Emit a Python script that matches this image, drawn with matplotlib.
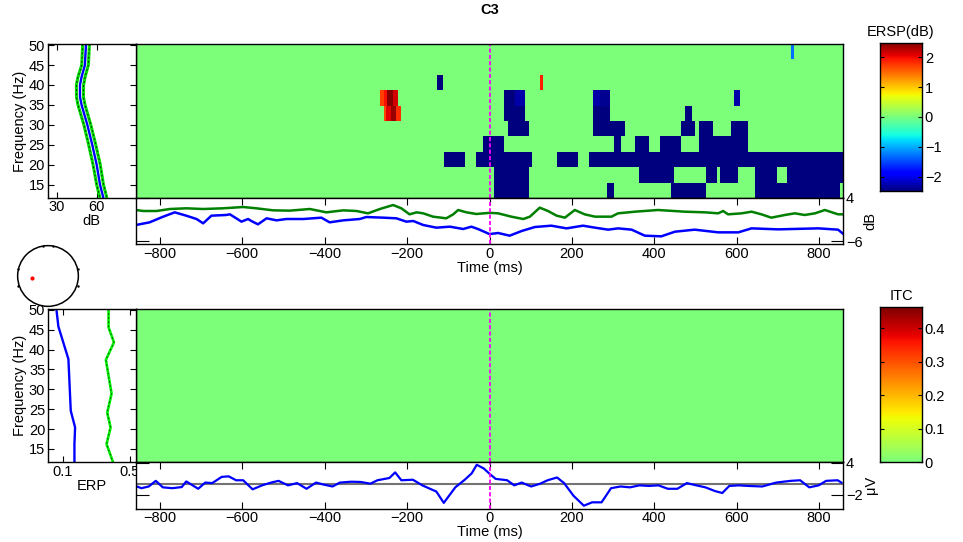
import numpy as np
import matplotlib
matplotlib.use("Agg")
import matplotlib.pyplot as plt
from matplotlib.colors import ListedColormap
from matplotlib.patches import Circle

plt.rcParams['font.family'] = ['Liberation Sans', 'DejaVu Sans']
plt.rcParams['font.size'] = 10.5
plt.rcParams['xtick.direction'] = 'in'
plt.rcParams['ytick.direction'] = 'in'
plt.rcParams['axes.linewidth'] = 1.0

################################################################################
# data                                                    #
################################################################################
t_range = (-858, 858)
f_edges = [11.7, 15.55, 19.4, 23.25, 27.1, 30.95, 34.8, 38.65, 42.5, 46.35, 50.2]
ersp_clim = 2.48
itc_clim = 0.463

# masked ERSP, one list per frequency row (top row first): (start ms, end ms, dB)
ersp_rows = [
    [(731, 738, -1.3)],
    [],
    [(-128, -112, -2.48), (122, 129, 1.86)],
    [(-266, -257, 1.7), (-257, -248, 1.95), (-248, -234, 2.45), (-234, -223, 2.1),
     (35, 62, -2.48), (62, 86, -2.3), (251, 268, -2.3), (268, 292, -2.4),
     (593, 609, -2.3)],
    [(-257, -250, 1.65), (-250, -240, 2.05), (-240, -228, 2.35), (-228, -215, 1.8),
     (35, 86, -2.48), (251, 292, -2.48), (474, 491, -2.48)],
    [(44, 95, -2.48), (251, 328, -2.48), (464, 498, -2.48), (508, 542, -2.48),
     (586, 627, -2.48)],
    [(-16, 35, -2.48), (302, 319, -2.48), (353, 387, -2.48), (413, 464, -2.48),
     (508, 627, -2.48)],
    [(-111, -60, -2.48), (-33, 103, -2.48), (163, 214, -2.48), (241, 858, -2.48)],
    [(10, 95, -2.48), (362, 447, -2.48), (525, 552, -2.48), (559, 603, -2.48),
     (644, 698, -2.48), (722, 858, -2.48)],
    [(10, 95, -2.48), (285, 302, -2.48), (440, 525, -2.48), (644, 850, -2.48)],
]

# baseline power spectrum (top left)
base_freq = [50.2, 45, 42, 40, 37, 35, 30, 25, 20, 15, 11.7]
base_db = [52, 51.2, 48.7, 47.5, 47.5, 48.7, 53, 56.7, 60, 62.5, 65]
base_lo = [49.5, 48.8, 46, 44.8, 44.9, 46, 50.4, 54, 57.3, 60, 62.4]
base_hi = [54.6, 53.8, 51.3, 50.2, 50.1, 51.3, 55.6, 59.3, 62.7, 65.1, 67.6]

# max / min ERSP over frequencies
emax_t = [-858, -841, -808, -776, -736, -695, -647, -598, -566, -525, -485, -436,
          -396, -355, -323, -295, -266, -234, -214, -194, -177, -161, -137, -105,
          -88, -76, -56, -32, 0, 21, 53, 82, 98, 122, 142, 163, 183, 207, 231,
          256, 296, 312, 353, 409, 474, 523, 555, 567, 579, 612, 636, 660, 684,
          717, 741, 765, 790, 814, 846, 858]
emax = [1.16, 0.93, 0.93, 1.39, 1.55, 1.39, 1.55, 1.85, 1.55, 1.08, 1.01, 1.39,
        0.62, 1.08, 0.93, 0.39, 1.39, 2.31, 1.55, 0.16, 0.62, 0.39, -0.38, -0.76,
        0.16, 1.16, 0.62, 0.24, 0.5, 0.39, -0.38, -0.92, -0.38, 1.70, 0.93, -0.15,
        -0.61, 1.16, 0.16, -0.38, -0.38, 0.39, 0.77, 1.16, 0.77, 0.62, 0.39, 0.93,
        0.16, 0.39, 0.77, 0.16, -0.61, 0.01, 0.39, 0.01, 0.39, 1.16, 0.16, 0.16]
emin_t = [-858, -825, -792, -764, -736, -711, -695, -675, -639, -630, -602, -586,
          -578, -562, -541, -517, -493, -452, -408, -388, -355, -315, -299, -258,
          -226, -202, -185, -161, -129, -96, -64, -44, -28, 0, 21, 49, 78, 110,
          150, 187, 227, 256, 288, 312, 345, 377, 417, 450, 498, 555, 604, 636,
          701, 798, 846, 858]
emin = [-2.30, -1.69, -0.38, 0.62, -0.15, -0.92, -1.92, -0.15, 0.01, 0.16, -1.53,
        -0.92, -1.38, -2.15, -0.76, -1.23, -0.92, -0.92, -0.61, -1.69, -1.23, -0.92,
        -0.46, -0.61, -0.76, -1.53, -1.38, -2.30, -2.92, -2.69, -3.23, -2.69, -3.23,
        -4.40, -4.15, -4.77, -3.69, -2.77, -2.46, -3.08, -2.46, -2.92, -3.38, -3.08,
        -3.38, -4.77, -4.92, -3.85, -3.38, -4.00, -4.00, -3.08, -3.31, -3.08, -3.38,
        -4.31]

# ITC mean and significance (bottom left)
itc_freq = [50.2, 45.8, 37.6, 24.6, 20.4, 16.2, 11.5]
itc_mean = [0.060, 0.072, 0.132, 0.146, 0.172, 0.168, 0.168]
sig_freq = [50.2, 45.6, 41.8, 37.4, 28.9, 24.1, 20.4, 16.2, 11.5]
itc_sig = [0.372, 0.372, 0.404, 0.356, 0.390, 0.364, 0.384, 0.360, 0.400]

# ERP (uV)
erp_t = [-859, -845, -827, -810, -793, -770, -747, -736, -707, -690, -673, -650,
         -633, -615, -598, -575, -552, -530, -512, -489, -467, -444, -421, -403,
         -381, -363, -335, -312, -289, -272, -243, -229, -214, -186, -163, -129,
         -111, -83, -60, -43, -31, -14, 1, 15, 43, 60, 78, 101, 123, 141, 164,
         181, 204, 229, 249, 272, 295, 318, 341, 364, 387, 410, 433, 456, 479,
         502, 524, 547, 565, 582, 605, 628, 662, 696, 731, 754, 776, 799, 817,
         845, 854]
erp = [-0.37, -0.79, -0.47, 0.58, -0.63, -0.79, -0.58, 0.47, -0.90, 0.26, 0.16,
       1.32, 1.42, 0.69, 0.69, -1.00, -0.26, 0.26, 0.58, -0.26, 0.16, -0.90, 0.26,
       -0.11, -0.47, 0.26, 0.42, 0.37, 0.05, 0.69, 1.11, 2.16, 0.69, 0.79, -0.26,
       -1.42, -3.53, -0.63, 0.79, 2.00, 3.58, 2.90, 1.84, 0.95, 0.69, -0.26, 0.26,
       -0.47, 0.05, 0.69, 1.21, 0.16, -2.21, -4.06, -3.43, -3.43, -0.79, -0.47,
       -0.63, -0.26, -0.37, -0.26, -0.90, -0.90, 0.16, -0.26, -0.63, -1.32, -1.69,
       -0.37, -0.26, -0.37, -0.47, 0.26, 0.58, 0.69, -0.63, -0.26, 0.58, 0.69, 0.26]

time_ticks = [-800, -600, -400, -200, 0, 200, 400, 600, 800]
freq_ticks = [15, 20, 25, 30, 35, 40, 45, 50]

################################################################################
W, H = 963, 542
fig = plt.figure(figsize=(W / 100, H / 100), dpi=100)

def box(l, t, r, b):
    return fig.add_axes([l / W, 1 - b / H, (r - l) / W, (b - t) / H])

jet = plt.get_cmap('jet')
itc_cmap = ListedColormap(jet(np.linspace(0.5, 1, 256)))

def zero_line(ax):
    ax.axvline(0, color='magenta', lw=1.3, dashes=(2.3, 1.2))

def trace_axis(ax, yt, ylim, ylab):
    ax.set_xlim(t_range)
    ax.set_ylim(ylim)
    ax.set_xticks(time_ticks)
    ax.set_yticks(yt)
    ax.tick_params(axis='x', top=True, bottom=True, length=5, pad=2)
    ax.tick_params(axis='y', left=True, right=True, labelleft=False,
                   labelright=True, length=9, pad=2)
    ax.yaxis.set_label_position('right')
    ax.set_ylabel(ylab, labelpad=1)
    ax.set_xlabel('Time (ms)', labelpad=0)

# ---------------- ERSP image
t_edges = np.arange(t_range[0], t_range[1] + 1, 1.0)
t_mid = (t_edges[:-1] + t_edges[1:]) / 2
ersp = np.zeros((len(ersp_rows), len(t_mid)))
for r, blocks in enumerate(ersp_rows):
    for t0, t1, v in blocks:
        ersp[len(ersp_rows) - 1 - r, (t_mid >= t0) & (t_mid < t1)] = v

ax1 = box(136, 44.3, 843, 197.7)
ax1.imshow(ersp, aspect='auto', origin='lower', interpolation='nearest',
           extent=(t_range[0], t_range[1], f_edges[0], f_edges[-1]),
           cmap=jet, vmin=-ersp_clim, vmax=ersp_clim)
zero_line(ax1)
ax1.set_xticks([])
ax1.set_yticks([])

# ---------------- baseline spectrum
ax2 = box(47.7, 44.3, 136, 197.7)
ax2.plot(base_lo, base_freq, color='#00dd00', lw=2.2)
ax2.plot(base_lo, base_freq, color='k', lw=0.6, dashes=(2, 3))
ax2.plot(base_hi, base_freq, color='#00dd00', lw=2.2)
ax2.plot(base_hi, base_freq, color='k', lw=0.6, dashes=(2, 3))
ax2.plot(base_db, base_freq, color='b', lw=1.7)
ax2.set_xlim(23.3, 89.5)
ax2.set_ylim(f_edges[0], f_edges[-1])
ax2.set_xticks([30, 60])
ax2.set_yticks(freq_ticks)
ax2.tick_params(top=True, right=True, length=4, pad=2)
ax2.set_xlabel('dB', labelpad=0)
ax2.set_ylabel('Frequency (Hz)', labelpad=1)

# ---------------- ERSP max/min traces
ax3 = box(136, 197.7, 843, 244.3)
ax3.plot(emax_t, emax, color='#008000', lw=1.8)
ax3.plot(emin_t, emin, color='b', lw=1.8)
zero_line(ax3)
trace_axis(ax3, [-6, 4], (-6.76, 4), 'dB')

# ---------------- ITC image
ax4 = box(136, 309, 843, 462)
itc = np.zeros((len(ersp_rows), len(t_mid)))
ax4.imshow(itc, aspect='auto', origin='lower', interpolation='nearest',
           extent=(t_range[0], t_range[1], f_edges[0], f_edges[-1]),
           cmap=itc_cmap, vmin=0, vmax=itc_clim)
zero_line(ax4)
ax4.set_xticks([])
ax4.set_yticks([])

# ---------------- ITC marginal
ax5 = box(48, 309, 136, 462)
ax5.plot(itc_sig, sig_freq, color='#00ee00', lw=1.9)
ax5.plot(itc_sig, sig_freq, color='k', lw=0.5, dashes=(2, 4))
ax5.plot(itc_mean, itc_freq, color='b', lw=1.7)
ax5.set_xlim(0.01, 0.536)
ax5.set_ylim(f_edges[0], f_edges[-1])
ax5.set_xticks([0.1, 0.5])
ax5.set_xticklabels(['0.1', '0.5'])
ax5.set_yticks(freq_ticks)
ax5.tick_params(top=True, right=True, length=4, pad=2)
ax5.set_xlabel('ERP', labelpad=0)
ax5.set_ylabel('Frequency (Hz)', labelpad=1)

# ---------------- ERP
ax6 = box(136, 462, 843, 508.6)
ax6.axhline(0, color='0.45', lw=1.5)
ax6.plot(erp_t, erp, color='b', lw=1.6)
zero_line(ax6)
trace_axis(ax6, [-2, 4], (-4.6, 4.1), '\u03bcV')

# ---------------- colorbars
def colorbar(l, t, r, b, lo, hi, cmap, ticks, labels, title):
    ax = box(l, t, r, b)
    ax.imshow(np.linspace(lo, hi, 256)[:, None], aspect='auto', origin='lower',
              extent=(0, 1, lo, hi), cmap=cmap, vmin=lo, vmax=hi)
    ax.set_xticks([])
    ax.set_yticks(ticks)
    ax.set_yticklabels(labels)
    ax.tick_params(axis='y', left=True, right=True, labelleft=False,
                   labelright=True, length=3, pad=2)
    ax.set_title(title, fontsize=10.5, pad=5)

colorbar(880, 43, 922, 191, -ersp_clim, ersp_clim, jet,
         [-2, -1, 0, 1, 2], ['\u22122', '\u22121', '0', '1', '2'], 'ERSP(dB)')
colorbar(880, 307, 922, 462, 0, itc_clim, itc_cmap,
         [0, 0.1, 0.2, 0.3, 0.4], ['0', '0.1', '0.2', '0.3', '0.4'], 'ITC')

# ---------------- electrode location
ax7 = box(14, 242, 82, 310)
ax7.add_patch(Circle((0, 0), 1, fill=False, color='k', lw=1.1))
ax7.plot([-1, -1, 1, 1, -0.15, 0.15], [0.23, -0.32, 0.23, -0.32, 1, 1],
         'k.', ms=1.5)
ax7.plot([-0.53], [-0.05], '.', color='red', ms=4)
ax7.set_xlim(-1.12, 1.12)
ax7.set_ylim(-1.12, 1.12)
ax7.set_aspect('equal')
ax7.axis('off')

fig.text(490 / W, 1 - 10 / H, 'C3', ha='center', va='center',
         fontsize=10.5, fontweight='bold')

fig.savefig('out.png', dpi=100)
